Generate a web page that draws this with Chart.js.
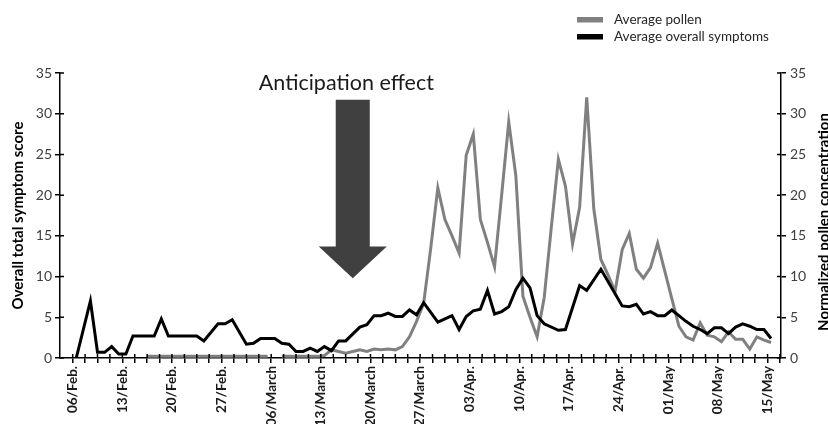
<!DOCTYPE html>
<html>
<head>
<meta charset="utf-8">
<script src="https://cdn.jsdelivr.net/npm/chart.js@4.4.1/dist/chart.umd.min.js"></script>
<style>
html,body{margin:0;padding:0;background:#fff;}
#wrap{width:828px;height:424px;position:relative;}
</style>
</head>
<body>
<div id="wrap"><canvas id="c" width="828" height="424"></canvas></div>
<script>
// ---- data (day index 0 = 06/Feb) ----
const dateLabels = ['06/Feb.','13/Feb.','20/Feb.','27/Feb.','06/March','13/March','20/March','27/March','03/Apr.','10/Apr.','17/Apr.','24/Apr.','01/May','08/May','15/May'];
const seriesNames = ['Average pollen','Average overall symptoms'];
const leftTitle = 'Overall total symptom score';
const rightTitle = 'Normalized pollen concentration';
const annotationText = 'Anticipation effect';
const yTicks = [0,5,10,15,20,25,30,35];

const symptomScore = [
 0, null, 7.0, 0.7, 0.7, 1.4, 0.5, 0.5, 2.7, 2.7,
 2.7, 2.7, 4.8, 2.7, 2.7, 2.7, 2.7, 2.7, 2.1, null,
 4.2, 4.2, 4.7, null, 1.7, 1.8, 2.4, 2.4, 2.4, 1.8,
 1.7, 0.8, 0.8, 1.2, 0.8, 1.4, 0.9, 2.1, 2.1, null,
 3.8, 4.1, 5.2, 5.2, 5.5, 5.1, 5.1, 5.9, 5.3, 6.8,
 null, 4.4, 4.8, 5.2, 3.5, 5.1, 5.8, 6.0, 8.3, 5.4,
 5.7, 6.3, 8.4, 9.8, 8.6, 5.2, 4.2, null, 3.4, 3.5,
 null, 8.9, 8.3, null, 10.9, null, null, 6.4, 6.3, 6.6,
 5.4, 5.7, 5.2, 5.2, 5.9, 5.2, 4.5, 3.9, 3.5, 3.0,
 3.7, 3.7, 3.0, 3.8, 4.2, 3.9, 3.5, 3.5, 2.4
];

const pollenLevel = [
 null, null, null, null, null, null, null, null, null, null,
 0.2, 0.2, 0.2, 0.2, 0.2, 0.2, 0.2, 0.2, 0.2, 0.2,
 0.2, 0.2, 0.2, 0.2, 0.2, 0.2, 0.2, 0.2, null, 0.2,
 0.2, 0.2, 0.2, 0.2, 0.2, 0.3, 1.0, 0.8, 0.6, 0.8,
 1.0, 0.8, 1.1, 1.0, 1.1, 1.0, 1.4, 2.6, 4.5, 6.7,
 13.5, 20.9, 17.0, 15.0, 12.9, 24.9, 27.5, 17.0, 14.2, 11.2,
 20.0, 29.0, 22.4, 7.6, 5.0, 2.6, 7.4, 16.0, 24.4, 21.1,
 14.0, 18.5, 32.0, 18.3, 12.1, 10.2, 8.2, 13.3, 15.3, 10.9,
 9.8, 11.1, 14.1, 10.7, 7.3, 3.9, 2.6, 2.2, 4.3, 2.8,
 2.6, 2.0, 3.2, 2.3, 2.3, 1.1, 2.6, 2.2, 1.9
];

// daily averages are plotted at the middle of their day
const DAY_CENTER = 0.5;
const toPoints = arr => arr.map((v, i) => ({x: i + DAY_CENTER, y: v}));

// annotation (data units: days / score)
const arrowSpec = {day: 39.5, halfShaft: 2.4, halfHead: 4.8, top: 31.7, headBase: 13.7, tip: 9.8, labelDay: 38.6, labelValue: 33.8};

// inner half of the "cross" tick marks
const crossTicks = {
  id: 'crossTicks',
  afterDraw(chart) {
    const {ctx, scales, chartArea} = chart;
    const len = 4;
    ctx.save();
    ctx.strokeStyle = '#000';
    ctx.lineWidth = 1.5;
    ctx.beginPath();
    scales.x.ticks.forEach(t => {
      const px = scales.x.getPixelForValue(t.value);
      ctx.moveTo(px, chartArea.bottom); ctx.lineTo(px, chartArea.bottom - len);
    });
    scales.y.ticks.forEach(t => {
      const py = scales.y.getPixelForValue(t.value);
      ctx.moveTo(chartArea.left, py); ctx.lineTo(chartArea.left + len, py);
    });
    scales.y2.ticks.forEach(t => {
      const py = scales.y2.getPixelForValue(t.value);
      ctx.moveTo(chartArea.right, py); ctx.lineTo(chartArea.right - len, py);
    });
    ctx.stroke();
    ctx.restore();
  }
};

const overlay = {
  id: 'overlay',
  afterDatasetsDraw(chart) {
    const {ctx, scales} = chart;
    const x = scales.x, y = scales.y;
    const a = arrowSpec;
    const cx = x.getPixelForValue(a.day);
    const sL = x.getPixelForValue(a.day - a.halfShaft), sR = x.getPixelForValue(a.day + a.halfShaft);
    const hL = x.getPixelForValue(a.day - a.halfHead), hR = x.getPixelForValue(a.day + a.halfHead);
    const yT = y.getPixelForValue(a.top), yB = y.getPixelForValue(a.headBase), yTip = y.getPixelForValue(a.tip);
    ctx.save();
    ctx.fillStyle = '#404040';
    ctx.beginPath();
    ctx.moveTo(sL, yT); ctx.lineTo(sR, yT); ctx.lineTo(sR, yB); ctx.lineTo(hR, yB);
    ctx.lineTo(cx, yTip); ctx.lineTo(hL, yB); ctx.lineTo(sL, yB); ctx.closePath();
    ctx.fill();

    ctx.fillStyle = '#1a1a1a';
    ctx.font = '21.5px Lato';
    ctx.textAlign = 'center';
    ctx.textBaseline = 'middle';
    ctx.fillText(annotationText, x.getPixelForValue(a.labelDay), y.getPixelForValue(a.labelValue));

    // legend
    ctx.fillStyle = '#808080';
    ctx.fillRect(577, 17, 26, 5.5);
    ctx.fillStyle = '#000';
    ctx.fillRect(577, 34, 26, 5.5);
    ctx.fillStyle = '#262626';
    ctx.font = '13.5px Lato';
    ctx.textAlign = 'left';
    ctx.fillText(seriesNames[0], 614, 20);
    ctx.fillText(seriesNames[1], 614, 37);

    // right axis title (reads bottom to top)
    ctx.translate(824, 222);
    ctx.rotate(-Math.PI / 2);
    ctx.font = 'bold 15px Lato';
    ctx.fillStyle = '#000';
    ctx.textAlign = 'center';
    ctx.fillText(rightTitle, 0, 0);
    ctx.restore();
  }
};

const tickFont = {family: 'Lato', size: 14};
new Chart(document.getElementById('c'), {
  type: 'line',
  data: {
    datasets: [
      {label: seriesNames[1], data: toPoints(symptomScore), yAxisID: 'y', borderColor: '#000', borderWidth: 3, pointRadius: 0, spanGaps: true, tension: 0},
      {label: seriesNames[0], data: toPoints(pollenLevel), yAxisID: 'y2', borderColor: '#808080', borderWidth: 3, pointRadius: 0, spanGaps: false, tension: 0}
    ]
  },
  options: {
    responsive: false,
    animation: false,
    devicePixelRatio: 1,
    layout: {padding: {top: 73, left: 0, right: 0, bottom: 0}},
    plugins: {legend: {display: false}, tooltip: {enabled: false}},
    scales: {
      x: {
        type: 'linear', min: -1.79, max: 99.9,
        afterFit: s => { s.height = 66; },
        afterBuildTicks: s => {
          const t = [];
          for (let v = 0; v <= 99.9; v += 1.75) t.push({value: v});
          s.ticks = t;
        },
        ticks: {
          autoSkip: false, maxRotation: 90, minRotation: 90, padding: 3,
          color: '#1a1a1a', font: {family: 'Lato', size: 13.5, weight: 'bold'},
          callback: v => { const k = v / 7; return (Number.isInteger(k) && dateLabels[k]) ? dateLabels[k] : ''; }
        },
        grid: {drawOnChartArea: false, drawTicks: true, tickLength: 5, color: '#000', lineWidth: 1.5},
        border: {display: true, color: '#000', width: 1.5}
      },
      y: {
        position: 'left', min: 0, max: 35,
        afterFit: s => { s.width = 60; },
        afterBuildTicks: s => { s.ticks = yTicks.map(v => ({value: v})); },
        ticks: {color: '#404040', font: tickFont, padding: 3},
        grid: {drawOnChartArea: false, tickLength: 5, color: '#000', lineWidth: 1.5},
        border: {display: true, color: '#000', width: 1.5},
        title: {display: true, text: leftTitle, color: '#000', font: {family: 'Lato', size: 15, weight: 'bold'}, padding: {top: 9, bottom: 0}}
      },
      y2: {
        position: 'right', min: 0, max: 35,
        afterFit: s => { s.width = 47; },
        afterBuildTicks: s => { s.ticks = yTicks.map(v => ({value: v})); },
        ticks: {color: '#404040', font: tickFont, padding: 4},
        grid: {drawOnChartArea: false, tickLength: 5, color: '#000', lineWidth: 1.5},
        border: {display: true, color: '#000', width: 1.5}
      }
    }
  },
  plugins: [overlay, crossTicks]
});
</script>
</body>
</html>
